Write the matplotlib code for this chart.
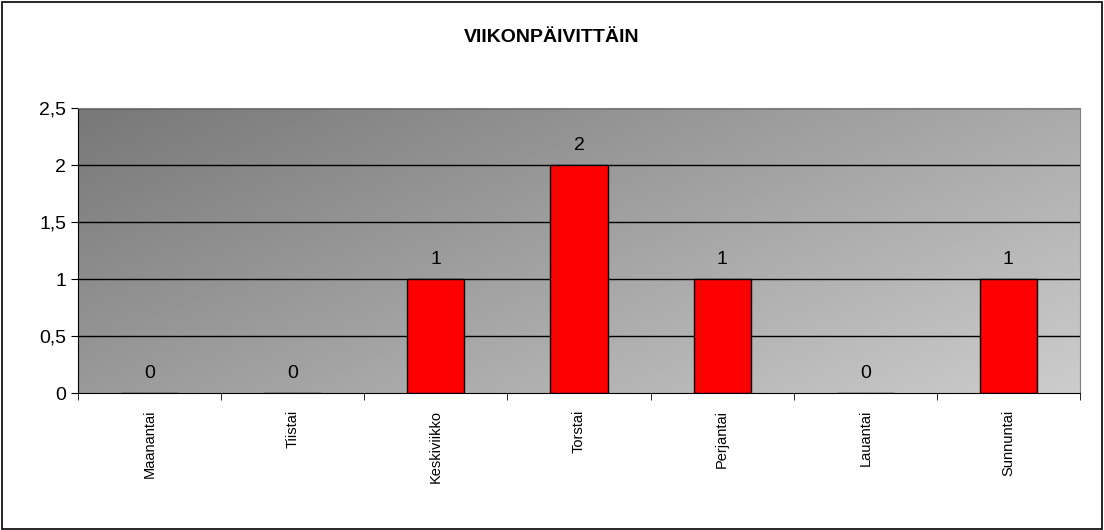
import numpy as np
import matplotlib
matplotlib.use("Agg")
import matplotlib.pyplot as plt
from matplotlib.patches import Rectangle

plt.rcParams["font.family"] = ["Liberation Sans", "DejaVu Sans"]

days = ["Maanantai", "Tiistai", "Keskiviikko", "Torstai", "Perjantai", "Lauantai", "Sunnuntai"]
counts = [0, 0, 1, 2, 1, 0, 1]
yticks = [0, 0.5, 1, 1.5, 2, 2.5]
ytick_labels = ["0", "0,5", "1", "1,5", "2", "2,5"]

fig = plt.figure(figsize=(11.04, 5.30), dpi=100)
fig.patch.set_facecolor("white")
fig.add_artist(Rectangle((0.002, 0.002), 0.996, 0.994, transform=fig.transFigure,
                         fill=False, edgecolor="black", linewidth=1.2))
ax = fig.add_axes([78 / 1104, 1 - 393 / 530, 1002 / 1104, 285 / 530])

# diagonal gradient background (dark top-left -> light bottom-right)
gx, gy = np.meshgrid(np.linspace(0, 1, 200), np.linspace(0, 1, 100))
grad = 0.47 + 0.33 * (gx * 0.6 + gy * 0.4)
ax.imshow(grad, extent=[0, 1, 0, 1], transform=ax.transAxes, aspect="auto",
          cmap="gray", vmin=0, vmax=1, origin="upper", zorder=0)

x = np.arange(len(days))
ax.bar(x, counts, width=0.4, color="#FF0000", edgecolor="black", linewidth=1, zorder=3)
for xi, c in zip(x, counts):
    ax.text(xi, c + 0.1, str(c), ha="center", va="bottom", fontsize=14, zorder=4)

ax.set_xlim(-0.5, len(days) - 0.5)
ax.set_ylim(0, 2.5)
ax.set_yticks(yticks)
ax.set_yticklabels(ytick_labels, fontsize=14)
for y in yticks[1:]:
    ax.axhline(y, color="black", linewidth=1, zorder=2)
ax.set_xticks(x)
ax.set_xticklabels(days, rotation=90, fontsize=10.5)
ax.tick_params(axis="x", length=0, pad=12)
ax.set_xticks(np.arange(-0.5, len(days), 1), minor=True)
ax.tick_params(axis="x", which="minor", length=5, direction="out")
ax.tick_params(axis="y", length=5, direction="out")
for s in ax.spines.values():
    s.set_color("#808080")
ax.spines["left"].set_color("black")
ax.spines["bottom"].set_color("black")

fig.text(0.5, 1 - 38 / 530, "VIIKONPÄIVITTÄIN", ha="center", va="center",
         fontsize=14, fontweight="bold")

fig.savefig("out.png", dpi=100)
